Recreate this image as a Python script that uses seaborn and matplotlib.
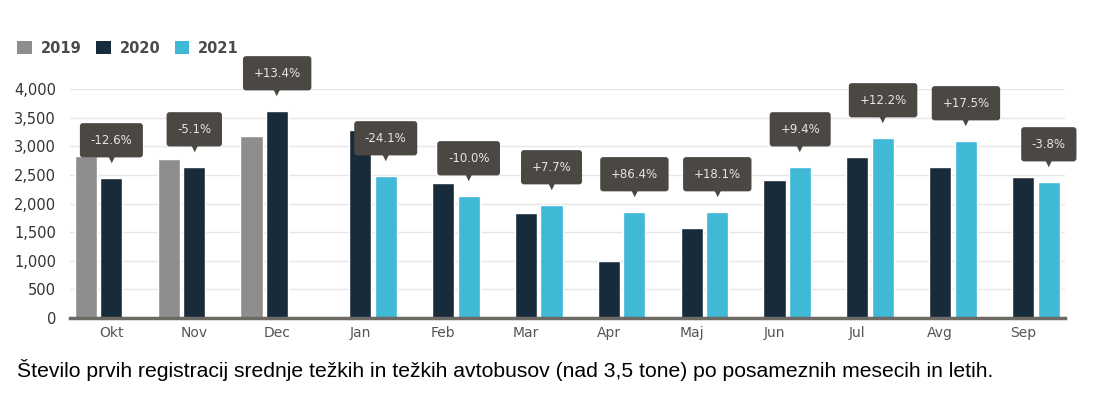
import matplotlib
import numpy as np
import pandas as pd
import seaborn as sns
matplotlib.use("Agg")
import matplotlib.pyplot as plt
from matplotlib.patches import Patch
from matplotlib.ticker import FuncFormatter

months = ["Okt", "Nov", "Dec", "Jan", "Feb", "Mar", "Apr", "Maj", "Jun", "Jul", "Avg", "Sep"]
years = ["2019", "2020", "2021"]
vals_2019 = [2830, 2780, 3180, None, None, None, None, None, None, None, None, None]
vals_2020 = [2445, 2637, 3616, 3284, 2358, 1834, 996, 1572, 2410, 2812, 2637, 2463]
vals_2021 = [None, None, None, 2480, 2131, 1974, 1852, 1852, 2637, 3144, 3092, 2375]
changes = ["-12.6%", "-5.1%", "+13.4%", "-24.1%", "-10.0%", "+7.7%",
           "+86.4%", "+18.1%", "+9.4%", "+12.2%", "+17.5%", "-3.8%"]
caption = ("Število prvih registracij srednje težkih in težkih avtobusov "
           "(nad 3,5 tone) po posameznih mesecih in letih.")

colors = {"2019": "#8e8e8e", "2020": "#182b3a", "2021": "#3fb9d6"}
box_color = "#4b4743"

df = pd.DataFrame({
    "month": months * 3,
    "year": [y for y in years for _ in months],
    "value": vals_2019 + vals_2020 + vals_2021,
})

sns.set_theme(style="white")
plt.rcParams["font.family"] = ["DejaVu Sans"]

fig = plt.figure(figsize=(10.93, 3.94), dpi=100)
ax = fig.add_axes([0.064, 0.193, 0.910, 0.581])

sns.barplot(data=df, x="month", y="value", hue="year", hue_order=years,
            order=months, palette=colors, width=0.93, gap=0.14,
            legend=False, ax=ax, saturation=1)

ax.set_ylim(0, 4000)
ax.set_xlim(-0.5, 11.5)
ax.set_yticks(np.arange(0, 4001, 500))
ax.yaxis.set_major_formatter(FuncFormatter(lambda v, p: f"{int(v):,}"))
ax.grid(axis="y", color="#e6e6e6", linewidth=1)
ax.set_axisbelow(True)
for s in ["top", "right", "left"]:
    ax.spines[s].set_visible(False)
ax.spines["bottom"].set_color("#6d6965")
ax.spines["bottom"].set_linewidth(2.5)
ax.tick_params(axis="y", length=0, labelsize=10.5, labelcolor="#333333", pad=10)
ax.tick_params(axis="x", length=0, labelsize=10, labelcolor="#555555", pad=6)
ax.set_xlabel("")
ax.set_ylabel("")

# callouts sit above the later year's bar of each month
slot = 0.93 / 3
for i, m in enumerate(months):
    if vals_2021[i] is not None:
        x, v = i + slot, vals_2021[i]
    else:
        x, v = i, vals_2020[i]
    ax.annotate(changes[i], xy=(x, v), xytext=(0, 22.5), textcoords="offset points",
                ha="center", va="bottom", fontsize=8.5, color="#e8e6e4",
                annotation_clip=False,
                bbox=dict(boxstyle="round,pad=0.9,rounding_size=0.25",
                          fc=box_color, ec="none"))
    ax.annotate("▼", xy=(x, v), xytext=(0, 17.5), textcoords="offset points",
                ha="center", va="top", fontsize=7, color=box_color,
                annotation_clip=False)

handles = [Patch(facecolor=colors[y], edgecolor="none", label=y) for y in years]
fig.legend(handles=handles, loc="upper left", bbox_to_anchor=(0.004, 0.93),
           ncol=3, frameon=False, handlelength=1.0, handleheight=1.0,
           handletextpad=0.6, columnspacing=1.0,
           prop={"size": 10.5, "weight": "bold"}, labelcolor="#4a4a4a")

fig.text(0.016, 0.062, caption, fontsize=15.2, color="black", va="center",
         family=["Liberation Sans", "DejaVu Sans"])

fig.savefig("out.png", dpi=100)
